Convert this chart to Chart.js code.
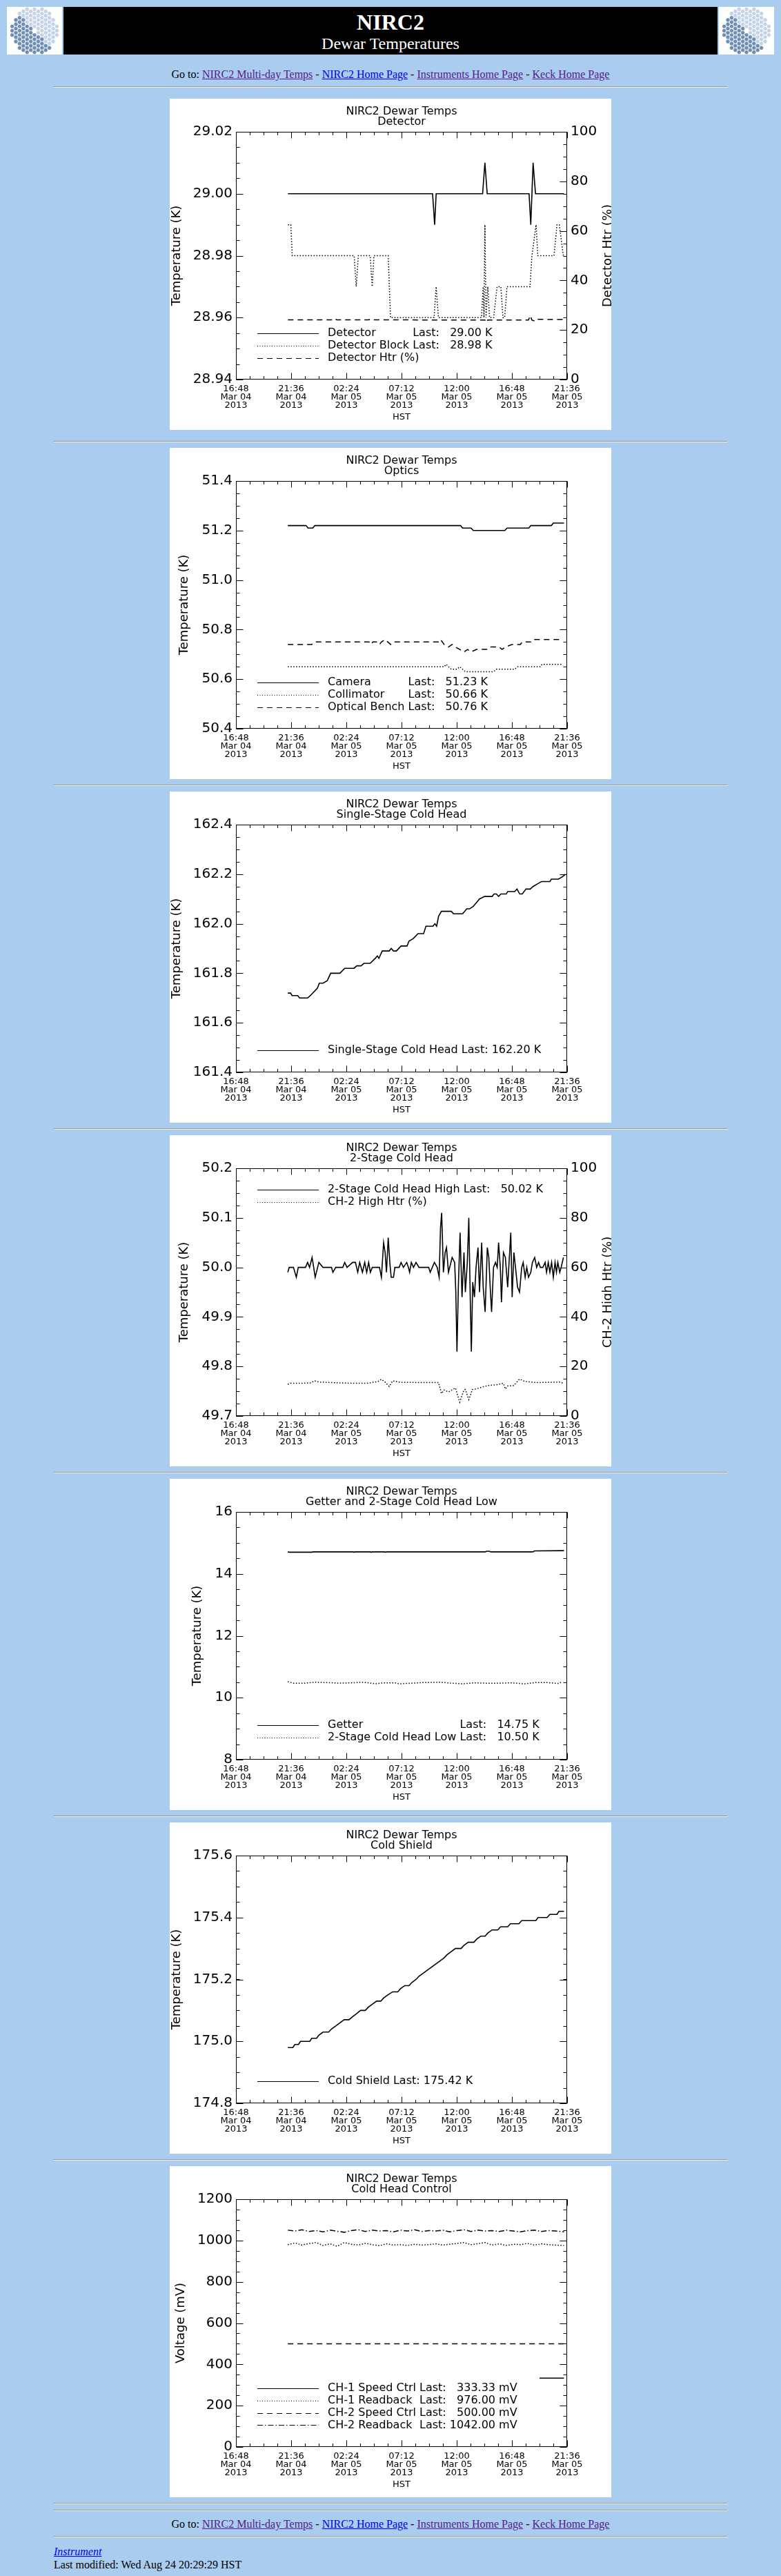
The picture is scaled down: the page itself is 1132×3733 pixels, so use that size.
<!DOCTYPE html>
<html>
<head>
<meta charset="utf-8">
<title>NIRC2 Dewar Temperatures</title>
<script src="https://cdn.jsdelivr.net/npm/chart.js@4.4.1/dist/chart.umd.min.js"></script>
<style>
  body { margin: 0; background: #AACCEE; color: #000; font-family: "Liberation Serif", "Times New Roman", serif; font-size: 16px; }
  .banner { display: flex; height: 69px; margin: 10px 10px 0 10px; }
  .banner canvas { display: block; width: 80px; height: 69px; }
  .banner .mid { flex: 1; margin: 0 2px; background: #000; color: #fff; text-align: center; }
  .banner .big { font-size: 32px; font-weight: bold; line-height: 36px; padding-top: 4px; }
  .banner .sub { font-size: 24px; line-height: 26px; }
  .nav { text-align: center; line-height: 18px; }
  a { color: #551A8B; }
  a.fresh { color: #0000EE; }
  hr { width: 976px; margin: 8px auto; }
  canvas.plot { display: block; margin: 0 auto; background: #fff; }
  .foot { margin: 11px 0 0 78px; line-height: 19px; }
</style>
</head>
<body>

<div class="banner">
  <canvas id="logoL" width="80" height="69"></canvas>
  <div class="mid">
    <div class="big">NIRC2</div>
    <div class="sub">Dewar Temperatures</div>
  </div>
  <canvas id="logoR" width="80" height="69"></canvas>
</div>

<div class="nav" style="margin-top:20px">Go to: <a href="#">NIRC2 Multi-day Temps</a> - <a class="fresh" href="#">NIRC2 Home Page</a> - <a href="#">Instruments Home Page</a> - <a href="#">Keck Home Page</a></div>
<hr>
<canvas id="detector" class="plot" width="640" height="480" style="margin-top:16px;margin-bottom:16px"></canvas>
<hr>
<canvas id="optics" class="plot" width="640" height="480"></canvas>
<hr>
<canvas id="singleStage" class="plot" width="640" height="480"></canvas>
<hr>
<canvas id="twoStage" class="plot" width="640" height="480"></canvas>
<hr>
<canvas id="getter" class="plot" width="640" height="480"></canvas>
<hr>
<canvas id="coldShield" class="plot" width="640" height="480"></canvas>
<hr>
<canvas id="coldHeadCtrl" class="plot" width="640" height="480"></canvas>
<hr>
<hr>
<div class="nav" style="margin-top:10px">Go to: <a href="#">NIRC2 Multi-day Temps</a> - <a class="fresh" href="#">NIRC2 Home Page</a> - <a href="#">Instruments Home Page</a> - <a href="#">Keck Home Page</a></div>
<hr>
<div class="foot"><a class="fresh" href="#"><i>Instrument</i></a><br>Last modified: Wed Aug 24 20:29:29 HST</div>

<script>
// time axis: hours since Mar 04 00:00 HST
const xTickHours = [16.8, 21.6, 26.4, 31.2, 36.0, 40.8, 45.6];
const xTickLabels = [
  ['16:48', 'Mar 04', '2013'], ['21:36', 'Mar 04', '2013'], ['02:24', 'Mar 05', '2013'],
  ['07:12', 'Mar 05', '2013'], ['12:00', 'Mar 05', '2013'], ['16:48', 'Mar 05', '2013'],
  ['21:36', 'Mar 05', '2013']
];

// Detector
const detectorTimes = [21.32, 33.90, 34.08, 34.21, 38.25, 38.45, 38.65, 42.29, 42.44, 42.64, 42.85, 45.32];
const detectorTemps = [29.00, 29.00, 28.99, 29.00, 29.00, 29.01, 29.00, 29.00, 28.99, 29.01, 29.00, 29.00];
const detBlockTimes = [21.32, 21.57, 21.70, 27.08, 27.26, 27.44, 28.47, 28.65, 28.80, 30.04, 30.24, 34.03,
  34.21, 34.41, 38.15, 38.30, 38.37, 38.45, 38.55, 38.70, 38.85, 39.21, 39.51, 39.84, 40.02, 40.17, 40.37,
  42.37, 42.54, 42.90, 43.05, 44.46, 44.72, 44.92, 45.27, 45.32];
const detBlockTemps = [28.99, 28.99, 28.98, 28.98, 28.97, 28.98, 28.98, 28.97, 28.98, 28.98, 28.96, 28.96,
  28.97, 28.96, 28.96, 28.97, 28.96, 28.99, 28.96, 28.97, 28.96, 28.96, 28.97, 28.97, 28.96, 28.96, 28.97,
  28.97, 28.98, 28.99, 28.98, 28.98, 28.99, 28.99, 28.98, 28.98];
const detHtrTimes = [21.32, 25.19, 25.31, 25.57, 28.35, 28.47, 28.72, 38.45, 38.58, 38.70, 42.24, 42.39, 42.54, 42.87, 43.05, 44.77, 45.32];
const detHtrPct = [24.1, 24.1, 24.6, 24.1, 24.1, 24.4, 24.1, 24.0, 23.0, 24.0, 24.0, 25.8, 24.0, 23.5, 24.3, 24.2, 24.2];

// Optics
const cameraTimes = [21.31, 22.90, 23.07, 23.47, 23.66, 36.33, 36.51, 37.24, 37.44, 40.18, 40.38, 42.27, 42.44, 44.23, 44.40, 45.33];
const cameraTemps = [51.22, 51.22, 51.21, 51.21, 51.22, 51.22, 51.21, 51.21, 51.20, 51.20, 51.21, 51.21, 51.22, 51.22, 51.23, 51.23];
const collimatorTimes = [21.31, 34.91, 35.08, 35.28, 35.53, 36.02, 36.26, 36.51, 36.75, 39.20, 39.45, 41.04, 41.29, 43.25, 43.42, 45.21];
const collimatorTemps = [50.65, 50.65, 50.66, 50.65, 50.64, 50.64, 50.65, 50.64, 50.63, 50.63, 50.64, 50.64, 50.65, 50.65, 50.66, 50.66];
const benchTimes = [21.31, 23.39, 23.64, 28.37, 28.54, 28.71, 29.10, 29.28, 29.45, 29.77, 30.01, 30.26, 30.50,
  34.42, 34.59, 34.91, 35.28, 35.60, 35.89, 36.26, 36.63, 36.95, 37.24, 37.73, 38.71, 38.96, 39.69, 39.94,
  40.23, 40.80, 41.53, 41.70, 42.44, 42.63, 45.21];
const benchTemps = [50.74, 50.74, 50.75, 50.75, 50.74, 50.75, 50.75, 50.74, 50.75, 50.76, 50.75, 50.74, 50.75,
  50.75, 50.76, 50.74, 50.73, 50.74, 50.73, 50.72, 50.71, 50.72, 50.71, 50.72, 50.72, 50.73, 50.73, 50.72,
  50.73, 50.74, 50.74, 50.75, 50.75, 50.76, 50.76];

// Single-stage cold head
const ssHeadTimes = [21.31, 21.55, 21.68, 22.17, 22.34, 23.03, 23.27, 23.88, 24.05, 24.37,
  24.74, 25.04, 25.84, 26.26, 27.07, 27.31, 27.68, 27.93, 28.47, 28.91,
  29.10, 29.23, 29.52, 30.13, 30.30, 30.50, 30.75, 31.16, 31.68, 31.85,
  32.22, 32.63, 33.12, 33.32, 33.93, 34.10, 34.25, 34.42, 34.67, 35.53,
  35.72, 36.51, 36.87, 37.12, 37.44, 37.98, 38.42, 39.08, 39.25, 39.45,
  39.64, 39.84, 40.31, 40.43, 41.04, 41.24, 41.48, 41.70, 42.02, 42.39,
  42.63, 43.00, 43.37, 44.10, 44.23, 44.84, 45.21, 45.45];
const ssHeadTemps = [161.72, 161.72, 161.71, 161.71, 161.70, 161.70, 161.71, 161.74, 161.76, 161.76,
  161.77, 161.80, 161.80, 161.82, 161.82, 161.83, 161.83, 161.84, 161.84, 161.86,
  161.87, 161.86, 161.89, 161.89, 161.90, 161.89, 161.89, 161.91, 161.91, 161.93,
  161.94, 161.96, 161.96, 161.99, 161.99, 162.00, 161.99, 162.03, 162.05, 162.05,
  162.04, 162.04, 162.06, 162.06, 162.07, 162.10, 162.11, 162.11, 162.12, 162.12,
  162.11, 162.12, 162.12, 162.13, 162.13, 162.14, 162.12, 162.12, 162.14, 162.14,
  162.15, 162.16, 162.17, 162.17, 162.18, 162.18, 162.19, 162.20];

// 2-stage cold head (high)
const ch2HighTimes = [21.31, 21.43, 21.80, 22.05, 22.22, 22.85, 23.03, 23.20, 23.42, 23.56,
  23.69, 24.01, 24.37, 25.11, 25.23, 25.48, 26.09, 26.26, 26.46, 26.95,
  27.19, 27.39, 27.56, 27.80, 28.00, 28.17, 28.34, 28.49, 28.66, 29.28,
  29.45, 29.64, 29.77, 29.89, 30.04, 30.18, 30.30, 30.50, 30.62, 30.99,
  31.16, 31.36, 31.65, 31.80, 31.90, 32.05, 32.24, 32.46, 32.71, 33.56,
  33.69, 34.06, 34.30, 34.47, 34.59, 34.69, 34.84, 34.99, 35.11, 35.28,
  35.60, 35.82, 35.92, 36.02, 36.14, 36.29, 36.46, 36.63, 36.75, 36.92,
  37.05, 37.19, 37.27, 37.39, 37.54, 37.68, 37.85, 37.98, 38.17, 38.30,
  38.47, 38.66, 38.79, 38.91, 39.03, 39.20, 39.37, 39.52, 39.64, 39.79,
  39.89, 40.06, 40.23, 40.43, 40.55, 40.70, 40.82, 40.97, 41.11, 41.29,
  41.46, 41.65, 41.78, 41.95, 42.09, 42.24, 42.44, 42.58, 42.78, 42.95,
  43.12, 43.27, 43.49, 43.69, 43.81, 43.96, 44.10, 44.25, 44.40, 44.55,
  44.67, 44.79, 44.96, 45.08, 45.28];
const ch2HighTemps = [49.99, 50.00, 50.00, 49.98, 50.00, 50.00, 50.01, 50.00, 50.02, 50.00,
  49.98, 50.01, 50.00, 50.00, 49.99, 50.00, 50.00, 50.01, 50.00, 50.01,
  50.01, 49.99, 50.01, 49.99, 50.01, 49.99, 50.01, 49.99, 50.00, 50.00,
  49.98, 50.05, 50.03, 49.99, 50.06, 50.01, 49.98, 49.98, 50.00, 50.00,
  50.01, 50.00, 50.01, 50.00, 49.99, 50.01, 50.00, 50.01, 50.00, 50.00,
  49.99, 50.01, 50.00, 49.98, 50.08, 50.11, 49.99, 50.03, 50.04, 49.99,
  50.02, 50.01, 49.95, 49.83, 49.96, 50.07, 49.94, 50.03, 49.95, 50.01,
  50.10, 49.92, 49.83, 49.97, 49.94, 50.00, 50.04, 49.95, 50.05, 49.96,
  49.91, 50.04, 50.02, 49.96, 49.91, 50.00, 50.01, 50.00, 50.05, 50.00,
  49.93, 50.03, 50.02, 49.96, 50.01, 50.07, 49.94, 50.03, 50.00, 49.96,
  49.95, 50.00, 50.01, 49.98, 50.00, 49.98, 49.99, 50.01, 50.02, 50.00,
  50.01, 50.00, 50.00, 50.01, 49.99, 50.01, 49.99, 50.01, 49.98, 50.01,
  49.99, 50.01, 49.99, 50.00, 50.02];
const ch2HtrTimes = [21.31, 21.55, 22.54, 23.27, 23.64, 24.01, 25.72, 26.95, 28.17, 29.15,
  29.45, 29.77, 30.13, 30.43, 31.11, 33.07, 34.42, 34.67, 34.91, 35.28,
  35.65, 35.89, 36.26, 36.63, 36.75, 37.05, 37.36, 37.73, 38.22, 38.71,
  39.45, 40.06, 40.23, 40.43, 40.97, 41.46, 41.90, 42.88, 44.10, 44.96, 45.33];
const ch2HtrPct = [12.8, 13.2, 13.2, 13.4, 14.2, 13.7, 13.4, 13.2, 13.2, 13.9,
  14.8, 13.7, 11.9, 14.2, 13.6, 13.5, 13.5, 9.1, 10.5, 9.7,
  10.7, 11.3, 5.6, 10.5, 10.7, 6.6, 10.7, 11.0, 11.7, 12.3,
  12.6, 13.2, 10.9, 12.1, 12.3, 14.9, 14.0, 13.5, 13.6, 13.7, 13.1];

// Getter and 2-stage cold head low
const getterTimes = [21.31, 21.43, 23.39, 23.52, 27.00, 27.07, 27.19, 28.47, 28.54, 28.66,
  29.69, 29.77, 29.89, 38.47, 38.59, 38.84, 38.96, 42.63, 42.76, 45.33];
const getterTemps = [14.71, 14.70, 14.70, 14.71, 14.71, 14.70, 14.71, 14.71, 14.70, 14.71,
  14.71, 14.70, 14.71, 14.71, 14.73, 14.73, 14.71, 14.71, 14.74, 14.75];
const ch2LowTimes = [21.31, 21.80, 22.78, 23.64, 24.74, 25.72, 26.70, 27.93, 28.91, 29.64,
  30.62, 30.99, 32.09, 33.07, 34.55, 35.53, 36.51, 37.49, 38.47, 39.69,
  40.67, 41.90, 42.88, 43.86, 44.84, 45.08];
const ch2LowTemps = [10.52, 10.47, 10.47, 10.50, 10.49, 10.47, 10.48, 10.50, 10.45, 10.48,
  10.48, 10.45, 10.47, 10.49, 10.50, 10.47, 10.45, 10.48, 10.47, 10.47,
  10.48, 10.45, 10.49, 10.49, 10.46, 10.50];

// Cold shield
const shieldTimes = [21.31, 21.75, 21.92, 22.24, 22.41, 23.22, 23.39, 23.81, 24.01, 24.37,
  24.86, 25.11, 25.48, 25.84, 26.21, 26.63, 26.95, 27.31, 27.63, 28.05,
  28.30, 28.66, 29.03, 29.40, 29.64, 30.01, 30.43, 30.87, 31.11, 31.48,
  31.85, 32.09, 32.46, 32.71, 33.07, 33.44, 33.81, 34.18, 34.55, 34.91,
  35.16, 35.53, 35.89, 36.38, 36.63, 37.00, 37.49, 37.73, 38.10, 38.47,
  38.71, 39.08, 39.57, 39.81, 40.43, 40.67, 41.41, 41.65, 42.88, 43.07,
  43.86, 44.10, 44.72, 44.89, 45.33];
const shieldTemps = [174.98, 174.98, 174.99, 174.99, 175.00, 175.00, 175.01, 175.01, 175.02, 175.03,
  175.03, 175.04, 175.05, 175.06, 175.07, 175.07, 175.08, 175.09, 175.10, 175.10,
  175.11, 175.12, 175.13, 175.13, 175.14, 175.15, 175.16, 175.16, 175.17, 175.18,
  175.18, 175.19, 175.20, 175.21, 175.22, 175.23, 175.24, 175.25, 175.26, 175.27,
  175.28, 175.29, 175.30, 175.30, 175.31, 175.32, 175.32, 175.33, 175.34, 175.34,
  175.35, 175.36, 175.36, 175.37, 175.37, 175.38, 175.38, 175.39, 175.39, 175.40,
  175.40, 175.41, 175.41, 175.42, 175.42];

// Cold head control
const ch1SpeedTimes = [43.20, 45.33];
const ch1SpeedMv = [333.33, 333.33];
const ch2SpeedTimes = [21.31, 45.55];
const ch2SpeedMv = [500.00, 500.00];
const readbackTimes = [21.31, 21.92, 22.54, 23.15, 23.76, 24.37, 24.99, 25.60, 26.21, 26.82,
  27.44, 28.05, 28.66, 29.28, 29.89, 30.50, 31.11, 31.73, 32.34, 32.95,
  33.56, 34.18, 34.79, 35.40, 36.02, 36.63, 37.24, 37.85, 38.47, 39.08,
  39.69, 40.31, 40.92, 41.53, 42.14, 42.76, 43.37, 43.98, 44.59, 45.33];
const ch1ReadbackMv = [980, 988, 978, 985, 990, 976, 984, 972, 990, 982,
  978, 986, 980, 975, 984, 978, 980, 976, 982, 978,
  980, 984, 978, 982, 986, 990, 980, 985, 990, 978,
  984, 976, 982, 980, 986, 978, 984, 980, 978, 976];
const ch2ReadbackMv = [1050, 1046, 1052, 1044, 1048, 1042, 1050, 1045, 1040, 1048,
  1052, 1044, 1050, 1046, 1048, 1042, 1050, 1046, 1052, 1044,
  1048, 1046, 1050, 1042, 1048, 1052, 1044, 1050, 1046, 1048,
  1044, 1050, 1046, 1042, 1048, 1050, 1044, 1048, 1046, 1042];

const DOTTED = [1.5, 2.5];
const DASHED = [8, 6];
const DASHDOT = [8, 3, 1.5, 3];
const FONT = '"DejaVu Sans", sans-serif';

Chart.defaults.font.family = FONT;
Chart.defaults.color = '#000';

function stepsOf(min, max, step) {
  const n = Math.round((max - min) / step);
  const out = [];
  for (let i = 0; i <= n; i++) out.push(min + i * step);
  return out;
}

// IDL style frame with inward major / minor ticks on all sides
const idlAxes = {
  id: 'idlAxes',
  afterDraw(chart, args, opts) {
    const { ctx, chartArea: a, scales } = chart;
    const L = Math.round(a.left) + 0.5, R = Math.round(a.right) - 0.5;
    const T = Math.round(a.top) + 0.5, B = Math.round(a.bottom) - 0.5;
    ctx.save();
    ctx.strokeStyle = '#000';
    ctx.lineWidth = 1;
    ctx.strokeRect(L, T, R - L, B - T);
    ctx.beginPath();

    const vTick = (px, len) => {
      px = Math.round(px) + 0.5;
      ctx.moveTo(px, B); ctx.lineTo(px, B - len);
      ctx.moveTo(px, T); ctx.lineTo(px, T + len);
    };
    const hTick = (py, len, left, right) => {
      py = Math.round(py) + 0.5;
      if (left) { ctx.moveTo(L, py); ctx.lineTo(L + len, py); }
      if (right) { ctx.moveTo(R, py); ctx.lineTo(R - len, py); }
    };

    const x = scales.x;
    stepsOf(x.min, x.max, opts.xMinor).forEach(v => vTick(x.getPixelForValue(v), 4.5));
    x.ticks.forEach(t => vTick(x.getPixelForValue(t.value), 9));

    const y = scales.y, y2 = scales.y2;
    stepsOf(y.min, y.max, opts.yMinor).forEach(v => hTick(y.getPixelForValue(v), 5, true, !y2));
    y.ticks.forEach(t => hTick(y.getPixelForValue(t.value), 10, true, !y2));
    if (y2) {
      stepsOf(y2.min, y2.max, opts.y2Minor).forEach(v => hTick(y2.getPixelForValue(v), 5, false, true));
      y2.ticks.forEach(t => hTick(y2.getPixelForValue(t.value), 10, false, true));
    }
    ctx.stroke();

    if (opts.rightTitle) {
      ctx.translate(635, (a.top + a.bottom) / 2);
      ctx.rotate(-Math.PI / 2);
      ctx.font = '18px ' + FONT;
      ctx.fillStyle = '#000';
      ctx.textAlign = 'center';
      ctx.textBaseline = 'middle';
      ctx.fillText(opts.rightTitle, 0, 0);
    }
    ctx.restore();
  }
};

// IDL style legend: line sample, label, "Last:" column and last value
const idlLegend = {
  id: 'idlLegend',
  afterDraw(chart, args, opts) {
    const ctx = chart.ctx;
    const sets = chart.data.datasets;
    ctx.save();
    ctx.font = '16px ' + FONT;
    ctx.fillStyle = '#000';
    ctx.strokeStyle = '#000';
    ctx.lineWidth = 1;
    ctx.textBaseline = 'middle';

    const lastText = ds => ds.data[ds.data.length - 1].y.toFixed(2) + ' ' + ds.unit;
    const withLast = sets.filter(ds => ds.unit);
    const space = ctx.measureText(' ').width;
    const labelW = Math.max(0, ...withLast.map(ds => ctx.measureText(ds.label).width));
    const lastX = 229 + labelW + space;
    const lastW = ctx.measureText('Last:').width;
    const fieldW = Math.max(ctx.measureText('000.00 K').width, ...withLast.map(ds => ctx.measureText(lastText(ds)).width));
    const valueRight = lastX + lastW + space + fieldW;

    sets.forEach((ds, i) => {
      const yy = opts.firstRow + i * 17.8;
      const ly = Math.round(yy) + 0.5;
      ctx.setLineDash(ds.borderDash.length ? [1, 2.5] : []);
      if (ds.borderDash.length && ds.borderDash[0] > 2) ctx.setLineDash(ds.borderDash);
      ctx.beginPath();
      ctx.moveTo(127, ly);
      ctx.lineTo(216, ly);
      ctx.stroke();
      ctx.setLineDash([]);
      ctx.textAlign = 'left';
      ctx.fillText(ds.label, 229, yy);
      if (ds.unit) {
        ctx.fillText('Last:', lastX, yy);
        ctx.textAlign = 'right';
        ctx.fillText(lastText(ds), valueRight, yy);
      }
    });
    ctx.restore();
  }
};

function series(label, times, values, dash, unit, right) {
  return {
    label: label,
    data: times.map((t, i) => ({ x: t, y: values[i] })),
    unit: unit,
    yAxisID: right ? 'y2' : 'y',
    borderColor: '#000',
    borderWidth: dash.length ? 1.5 : 1.6,
    borderDash: dash,
    pointRadius: 0,
    tension: 0,
    fill: false
  };
}

function makePlot(id, cfg) {
  const scales = {
    x: {
      type: 'linear',
      position: 'bottom',
      min: xTickHours[0],
      max: xTickHours[xTickHours.length - 1],
      afterBuildTicks: s => { s.ticks = xTickHours.map(v => ({ value: v })); },
      afterFit: s => { s.height = 73; },
      ticks: {
        callback: (v, i) => xTickLabels[i],
        autoSkip: false,
        maxRotation: 0,
        padding: 8,
        font: { size: 13, lineHeight: '12px' }
      },
      grid: { display: false, drawTicks: false },
      border: { display: false },
      title: { display: true, text: 'HST', font: { size: 13 }, padding: { top: 0, bottom: 11 } }
    },
    y: {
      position: 'left',
      min: cfg.yMin,
      max: cfg.yMax,
      afterFit: s => { s.width = 96; },
      ticks: {
        stepSize: cfg.yStep,
        padding: 5,
        font: { size: 20 },
        callback: v => v.toFixed(cfg.yDec)
      },
      grid: { display: false, drawTicks: false },
      border: { display: false },
      title: { display: true, text: cfg.yTitle, font: { size: 18 }, padding: { top: cfg.yTitlePad, bottom: 0 } }
    }
  };
  if (cfg.rightTitle) {
    scales.y2 = {
      position: 'right',
      min: 0,
      max: 100,
      afterFit: s => { s.width = 64; },
      ticks: { stepSize: 20, padding: 5, font: { size: 20 } },
      grid: { display: false, drawTicks: false },
      border: { display: false }
    };
  }
  return new Chart(document.getElementById(id), {
    type: 'line',
    data: { datasets: cfg.datasets },
    options: {
      responsive: false,
      animation: false,
      devicePixelRatio: 1,
      layout: { padding: { left: 0, right: cfg.rightTitle ? 0 : 64, top: 0, bottom: 0 } },
      scales: scales,
      plugins: {
        legend: { display: false },
        tooltip: { enabled: false },
        title: {
          display: true,
          fullSize: false,
          text: ['NIRC2 Dewar Temps', cfg.subtitle],
          font: { size: 16, weight: 'normal', lineHeight: '15px' },
          padding: { top: 11, bottom: 7 }
        },
        idlAxes: { xMinor: 1.2, yMinor: cfg.yMinor, y2Minor: 5, rightTitle: cfg.rightTitle },
        idlLegend: { firstRow: cfg.legendRow }
      }
    },
    plugins: [idlAxes, idlLegend]
  });
}

makePlot('detector', {
  subtitle: 'Detector', yTitle: 'Temperature (K)', yTitlePad: 0,
  yMin: 28.94, yMax: 29.02, yStep: 0.02, yMinor: 0.005, yDec: 2,
  rightTitle: 'Detector Htr (%)', legendRow: 340,
  datasets: [
    series('Detector', detectorTimes, detectorTemps, [], 'K'),
    series('Detector Block', detBlockTimes, detBlockTemps, DOTTED, 'K'),
    series('Detector Htr (%)', detHtrTimes, detHtrPct, DASHED, null, true)
  ]
});

makePlot('optics', {
  subtitle: 'Optics', yTitle: 'Temperature (K)', yTitlePad: 11,
  yMin: 50.4, yMax: 51.4, yStep: 0.2, yMinor: 0.05, yDec: 1, legendRow: 340,
  datasets: [
    series('Camera', cameraTimes, cameraTemps, [], 'K'),
    series('Collimator', collimatorTimes, collimatorTemps, DOTTED, 'K'),
    series('Optical Bench', benchTimes, benchTemps, DASHED, 'K')
  ]
});

makePlot('singleStage', {
  subtitle: 'Single-Stage Cold Head', yTitle: 'Temperature (K)', yTitlePad: 0,
  yMin: 161.4, yMax: 162.4, yStep: 0.2, yMinor: 0.05, yDec: 1, legendRow: 375,
  datasets: [
    series('Single-Stage Cold Head', ssHeadTimes, ssHeadTemps, [], 'K')
  ]
});

makePlot('twoStage', {
  subtitle: '2-Stage Cold Head', yTitle: 'Temperature (K)', yTitlePad: 11,
  yMin: 49.7, yMax: 50.2, yStep: 0.1, yMinor: 0.025, yDec: 1,
  rightTitle: 'CH-2 High Htr (%)', legendRow: 79,
  datasets: [
    series('2-Stage Cold Head High', ch2HighTimes, ch2HighTemps, [], 'K'),
    series('CH-2 High Htr (%)', ch2HtrTimes, ch2HtrPct, DOTTED, null, true)
  ]
});

makePlot('getter', {
  subtitle: 'Getter and 2-Stage Cold Head Low', yTitle: 'Temperature (K)', yTitlePad: 30,
  yMin: 8, yMax: 16, yStep: 2, yMinor: 0.5, yDec: 0, legendRow: 357,
  datasets: [
    series('Getter', getterTimes, getterTemps, [], 'K'),
    series('2-Stage Cold Head Low', ch2LowTimes, ch2LowTemps, DOTTED, 'K')
  ]
});

makePlot('coldShield', {
  subtitle: 'Cold Shield', yTitle: 'Temperature (K)', yTitlePad: 0,
  yMin: 174.8, yMax: 175.6, yStep: 0.2, yMinor: 0.05, yDec: 1, legendRow: 375,
  datasets: [
    series('Cold Shield', shieldTimes, shieldTemps, [], 'K')
  ]
});

makePlot('coldHeadCtrl', {
  subtitle: 'Cold Head Control', yTitle: 'Voltage (mV)', yTitlePad: 6,
  yMin: 0, yMax: 1200, yStep: 200, yMinor: 50, yDec: 0, legendRow: 322,
  datasets: [
    series('CH-1 Speed Ctrl', ch1SpeedTimes, ch1SpeedMv, [], 'mV'),
    series('CH-1 Readback', readbackTimes, ch1ReadbackMv, DOTTED, 'mV'),
    series('CH-2 Speed Ctrl', ch2SpeedTimes, ch2SpeedMv, DASHED, 'mV'),
    series('CH-2 Readback', readbackTimes, ch2ReadbackMv, DASHDOT, 'mV')
  ]
});

// hexagon segment logo in the banner corners
function drawLogo(id) {
  const ctx = document.getElementById(id).getContext('2d');
  ctx.fillStyle = '#fff';
  ctx.fillRect(0, 0, 80, 69);
  const r = 3.6, cx = 40, cy = 34.5;
  for (let col = -8; col <= 8; col++) {
    for (let row = -7; row <= 7; row++) {
      const dx = col * 1.5 * r;
      const dy = row * Math.sqrt(3) * r + (Math.abs(col) % 2 ? Math.sqrt(3) * r / 2 : 0);
      if (Math.sqrt(3) * Math.abs(dx) + Math.abs(dy) > Math.sqrt(3) * 37) continue;
      if (Math.abs(dy) > 32) continue;
      if (Math.hypot(dx, dy) < 5) continue;
      ctx.fillStyle = (dx - dy) < 0 ? '#6E8EB4' : '#C4D4E6';
      ctx.beginPath();
      for (let k = 0; k < 6; k++) {
        const ang = Math.PI / 3 * k;
        const px = cx + dx + (r - 0.6) * Math.cos(ang);
        const py = cy + dy + (r - 0.6) * Math.sin(ang);
        if (k === 0) ctx.moveTo(px, py); else ctx.lineTo(px, py);
      }
      ctx.closePath();
      ctx.fill();
    }
  }
}
drawLogo('logoL');
drawLogo('logoR');
</script>
</body>
</html>
